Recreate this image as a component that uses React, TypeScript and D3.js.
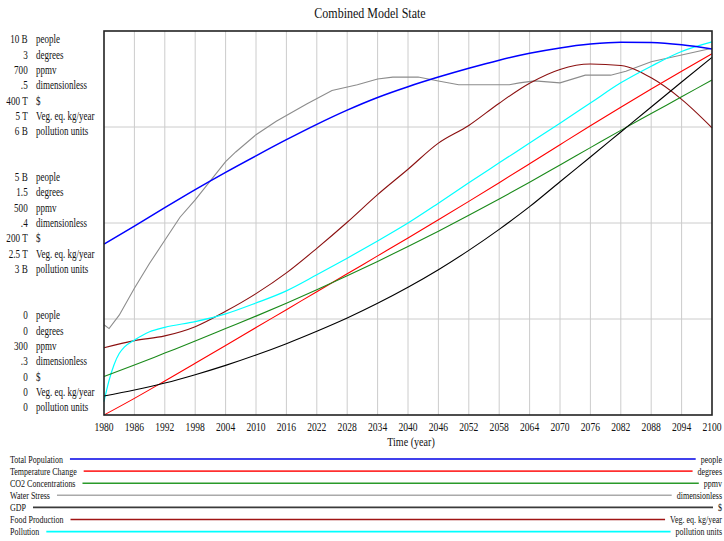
import React, { useEffect, useRef } from "react";
import * as d3 from "d3";

const xTicks = [1980, 1986, 1992, 1998, 2004, 2010, 2016, 2022, 2028, 2034, 2040, 2046, 2052, 2058, 2064, 2070, 2076, 2082, 2088, 2094, 2100];
const years = [1980, 1986, 1992, 1998, 2004, 2010, 2016, 2022, 2028, 2034, 2040, 2046, 2052, 2058, 2064, 2070, 2076, 2082, 2088, 2094, 2100];

const population = [4.45, 4.92, 5.4, 5.87, 6.32, 6.75, 7.17, 7.57, 7.94, 8.27, 8.55, 8.8, 9.03, 9.24, 9.42, 9.56, 9.66, 9.71, 9.7, 9.64, 9.53];
const temperature = [0, 0.13, 0.266, 0.404, 0.543, 0.683, 0.823, 0.963, 1.103, 1.243, 1.383, 1.525, 1.669, 1.815, 1.963, 2.112, 2.26, 2.405, 2.547, 2.686, 2.822];
const co2 = [340, 352, 364.5, 377, 390, 403, 416.5, 430.5, 445, 460, 475.5, 491.5, 508, 525, 542.5, 560.5, 578.5, 596.5, 614, 631.5, 649];
const gdp = [19.8, 26.0, 33.3, 42.0, 51.7, 62.5, 74.3, 87.2, 101, 116.3, 133, 151.3, 171.5, 193.4, 217, 243, 268.8, 294.8, 320.8, 346.9, 372.6];
const food = [0.876, 0.968, 1.03, 1.15, 1.35, 1.58, 1.85, 2.17, 2.51, 2.87, 3.2, 3.54, 3.77, 4.06, 4.32, 4.5, 4.57, 4.55, 4.39, 4.11, 3.74];

const waterYears = [1980, 1981, 1983, 1986, 1989, 1992, 1995, 1998, 2004, 2006, 2010, 2014, 2020, 2025, 2030, 2034, 2037, 2040, 2042, 2046, 2050, 2060, 2062, 2065, 2070, 2075, 2080, 2083, 2088, 2100];
const waterStress = [0.347, 0.345, 0.352, 0.366, 0.379, 0.391, 0.403, 0.412, 0.432, 0.437, 0.446, 0.453, 0.462, 0.469, 0.472, 0.475, 0.476, 0.476, 0.476, 0.474, 0.472, 0.472, 0.473, 0.474, 0.473, 0.477, 0.477, 0.479, 0.484, 0.491];

const pollutionYears = [1980, 1981, 1982, 1983, 1984, 1986, 1989, 1992, 1998, 2004, 2010, 2016, 2022, 2028, 2034, 2040, 2046, 2052, 2058, 2064, 2070, 2076, 2082, 2088, 2094, 2100];
const pollution = [0.21, 0.54, 0.79, 0.96, 1.06, 1.17, 1.3, 1.37, 1.46, 1.58, 1.75, 1.94, 2.19, 2.45, 2.72, 3.0, 3.31, 3.63, 3.94, 4.25, 4.56, 4.875, 5.19, 5.45, 5.68, 5.83];

const seriesNames = ["Total Population", "Temperature Change", "CO2 Concentrations", "Water Stress", "GDP", "Food Production", "Pollution"];
const units = ["people", "degrees", "ppmv", "dimensionless", "$", "Veg. eq. kg/year", "pollution units"];
const tickTop = ["10 B", "3", "700", ".5", "400 T", "5 T", "6 B"];
const tickMid = ["5 B", "1.5", "500", ".4", "200 T", "2.5 T", "3 B"];
const tickBot = ["0", "0", "300", ".3", "0", "0", "0"];
const domains: [number, number][] = [[0, 10], [0, 3], [300, 700], [0.3, 0.5], [0, 400], [0, 5], [0, 6]];

const plotColors = ["#0000ff", "#ff0000", "#1a8a1a", "#8c8c8c", "#000000", "#8b1010", "#00ffff"];
const legendColors = ["#0000e6", "#ff3030", "#2a9a2a", "#aaaaaa", "#3a3a3a", "#a01414", "#00ffff"];
const lineWidths = [1.5, 1.1, 1.1, 1.1, 1.1, 1.1, 1.2];

const W = 724, H = 541;
const L = 104, R = 712, T = 31, B = 415;
const FONT = "'Liberation Serif','Times New Roman',Times,serif";

export default function App() {
  const ref = useRef<SVGSVGElement>(null);
  useEffect(() => {
    const svg = d3.select(ref.current);
    svg.selectAll("*").remove();
    svg.append("rect").attr("width", W).attr("height", H).attr("fill", "#fff");

    const txt = (str: string, x: number, y: number, size: number, sx: number, anchor: string) =>
      svg.append("text")
        .attr("transform", `translate(${x},${y}) scale(${sx},1)`)
        .attr("text-anchor", anchor)
        .attr("font-size", size)
        .attr("font-family", FONT)
        .attr("fill", "#111")
        .text(str);

    const x = d3.scaleLinear().domain([1980, 2100]).range([L, R]);
    const band = d3.scaleLinear().domain([0, 4]).range([B, T]);

    const grid = svg.append("g").attr("stroke", "#cccccc").attr("stroke-width", 1);
    xTicks.slice(1, -1).forEach(t => {
      grid.append("line").attr("x1", x(t)).attr("x2", x(t)).attr("y1", T).attr("y2", B);
    });
    [1, 2, 3].forEach(i => {
      grid.append("line").attr("x1", L).attr("x2", R).attr("y1", band(i)).attr("y2", band(i));
    });

    const data = [
      { xs: years, ys: population, curve: d3.curveMonotoneX },
      { xs: years, ys: temperature, curve: d3.curveMonotoneX },
      { xs: years, ys: co2, curve: d3.curveMonotoneX },
      { xs: waterYears, ys: waterStress, curve: d3.curveLinear },
      { xs: years, ys: gdp, curve: d3.curveMonotoneX },
      { xs: years, ys: food, curve: d3.curveMonotoneX },
      { xs: pollutionYears, ys: pollution, curve: d3.curveMonotoneX },
    ];
    const drawOrder = [3, 5, 6, 1, 2, 4, 0];
    drawOrder.forEach(i => {
      const s = data[i];
      const y = d3.scaleLinear().domain(domains[i]).range([B, T]);
      const line = d3.line<[number, number]>().x(d => x(d[0])).y(d => y(d[1])).curve(s.curve);
      svg.append("path")
        .datum(d3.zip(s.xs, s.ys) as [number, number][])
        .attr("d", line)
        .attr("fill", "none")
        .attr("stroke", plotColors[i])
        .attr("stroke-width", lineWidths[i]);
    });

    svg.append("rect").attr("x", L).attr("y", T).attr("width", R - L).attr("height", B - T)
      .attr("fill", "none").attr("stroke", "#222").attr("stroke-width", 1.6);

    const rowH = 15.35;
    const blocks = [
      { labels: tickTop, start: T + 8.3 },
      { labels: tickMid, start: band(2) - 3 * rowH },
      { labels: tickBot, start: B - 7.7 - 6 * rowH },
    ];
    blocks.forEach(b => {
      b.labels.forEach((lab, i) => {
        const cy = b.start + i * rowH;
        txt(lab, 27.7, cy + 4, 12, 0.76, "end");
        txt(units[i], 36, cy + 4, 12, 0.75, "start");
      });
    });

    xTicks.forEach(t => txt(String(t), x(t), 431, 12, 0.8, "middle"));
    txt("Time (year)", 411, 446, 12, 0.84, "middle");

    txt("Combined Model State", 370, 18, 15, 0.8, "middle");

    const legY0 = 459, legDy = 12.1;
    seriesNames.forEach((name, i) => {
      const cy = legY0 + i * legDy;
      const sx = 0.8;
      const t1 = txt(name, 10, cy + 3.5, 10, sx, "start");
      const t2 = txt(units[i], 722, cy + 3.5, 10, sx, "end");
      const w1 = (t1.node() as SVGTextElement).getComputedTextLength() * sx;
      const w2 = (t2.node() as SVGTextElement).getComputedTextLength() * sx;
      svg.append("line")
        .attr("x1", 10 + w1 + 7).attr("x2", 722 - w2 - 5)
        .attr("y1", cy).attr("y2", cy)
        .attr("stroke", legendColors[i]).attr("stroke-width", 1.6);
    });
  }, []);
  return <svg ref={ref} width={W} height={H} style={{ position: "absolute", left: 0, top: 0 }} />;
}
